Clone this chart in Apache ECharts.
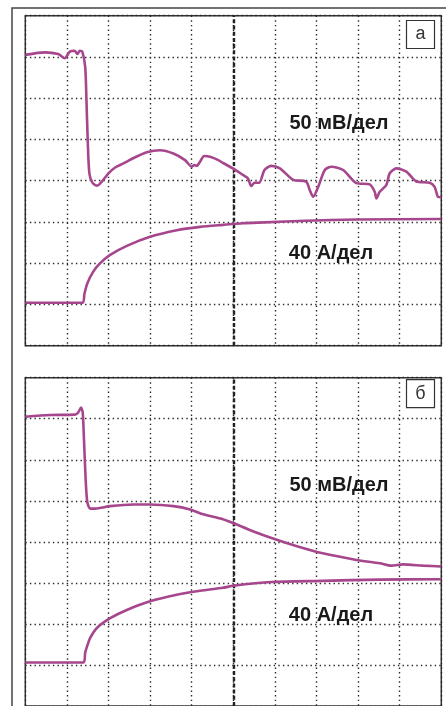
<!DOCTYPE html>
<html>
<head>
<meta charset="utf-8">
<script src="https://cdn.jsdelivr.net/npm/echarts@6/dist/echarts.min.js"></script>
<style>
html,body{margin:0;padding:0;background:#fff;}
#chart{width:446px;height:706px;}
</style>
</head>
<body>
<div id="chart"></div>
<script>
// Values in screen divisions (x: 0..10, y: 0..8)
const voltageA = [
  [0,7.05],[0.47,7.11],[0.79,7.07],[0.95,6.97],[1.07,7.13],[1.19,7.15],[1.25,7.07],[1.31,7.15],[1.37,7.13],
  [1.44,6.76],[1.47,5.96],[1.5,4.99],[1.54,4.18],[1.62,3.94],[1.73,3.88],[1.84,3.98],[2.0,4.18],[2.16,4.32],
  [2.36,4.42],[2.6,4.55],[2.92,4.69],[3.24,4.74],[3.56,4.66],[3.84,4.5],[4.0,4.34],[4.06,4.38],[4.12,4.36],
  [4.2,4.46],[4.3,4.6],[4.44,4.58],[4.64,4.5],[4.75,4.43],[4.99,4.3],[5.23,4.14],[5.35,4.06],[5.43,3.87],
  [5.51,3.95],[5.62,3.95],[5.75,4.26],[5.91,4.36],[6.12,4.3],[6.44,4.02],[6.75,3.98],[6.84,3.77],[6.92,3.61],
  [7.04,3.85],[7.2,4.26],[7.36,4.34],[7.64,4.26],[7.96,3.94],[8.28,3.91],[8.4,3.73],[8.44,3.57],[8.52,3.73],
  [8.68,3.9],[8.76,4.18],[8.92,4.3],[9.16,4.22],[9.4,3.98],[9.72,3.95],[9.84,3.85],[9.92,3.61],[10,3.6]
];
const currentA = [
  [0,1.04],[1.38,1.04],[1.42,1.25],[1.49,1.51],[1.63,1.79],[1.8,2.0],[2.04,2.2],[2.44,2.42],[3.0,2.64],
  [3.64,2.8],[4.2,2.88],[4.75,2.93],[5.23,2.97],[5.75,2.99],[6.75,3.03],[7.96,3.06],[10,3.07]
];
const voltageB = [
  [0,7.05],[0.59,7.09],[1.19,7.1],[1.27,7.15],[1.34,7.27],[1.38,7.15],[1.41,6.51],[1.45,5.54],[1.49,4.97],
  [1.56,4.81],[1.68,4.81],[2.04,4.87],[2.6,4.91],[3.0,4.91],[3.56,4.87],[3.96,4.79],[4.28,4.67],[4.52,4.61],
  [4.75,4.55],[4.99,4.46],[5.47,4.26],[5.99,4.07],[6.51,3.9],[7.15,3.72],[7.96,3.56],[8.52,3.48],[8.8,3.42],
  [9.08,3.45],[9.56,3.42],[10,3.4]
];
const currentB = [
  [0,1.06],[1.4,1.06],[1.44,1.3],[1.5,1.5],[1.56,1.66],[1.72,1.9],[2.04,2.14],[2.44,2.34],[3.0,2.55],
  [3.64,2.71],[4.2,2.81],[4.75,2.88],[5.0,2.93],[5.91,3.02],[7.15,3.05],[8.5,3.08],[10,3.09]
];
const centerX = 5;
const panelLabels = ['а','б'];
const voltLabel = '50 мВ/дел';
const currLabel = '40 А/дел';

const traceColor = '#a6468c';
const gridTops = [15.7, 377.7];

function mkAxis(idx, type) {
  return {
    type: 'value', gridIndex: idx, min: 0, max: type === 'x' ? 10 : 8, interval: 1,
    axisLine: {show: false}, axisTick: {show: false}, axisLabel: {show: false},
    splitLine: {show: true, lineStyle: {color: '#2a2a2a', width: 1.4, type: [1.4, 3.2]}}
  };
}
function lineSeries(idx, data, withMark) {
  const s = {
    type: 'line', xAxisIndex: idx, yAxisIndex: idx, data: data, showSymbol: false, symbol: 'none',
    smooth: 0.25, lineStyle: {color: traceColor, width: 2.6}, z: 5, silent: true, animation: false
  };
  if (withMark) {
    s.markLine = {
      silent: true, symbol: 'none', label: {show: false}, animation: false,
      lineStyle: {color: '#222', width: 2.4, type: [4, 2.2]},
      data: [{xAxis: centerX}]
    };
  }
  return s;
}

const graphics = [
  {type: 'rect', shape: {x: 12, y: 8, width: 470, height: 740}, style: {fill: 'none', stroke: '#444', lineWidth: 1.5}, z: 0}
];
gridTops.forEach((t, i) => {
  graphics.push({type: 'rect', shape: {x: 406.5, y: t + (i === 0 ? 4.8 : 2), width: 28, height: 28},
    style: {fill: '#fff', stroke: '#333', lineWidth: 1.2}, z: 10});
  graphics.push({type: 'text', x: 420.5, y: t + (i === 0 ? 18.8 : 16), style: {text: panelLabels[i], fill: '#333',
    font: '18px "Liberation Sans", Arial, sans-serif', textAlign: 'center', textVerticalAlign: 'middle'}, z: 11});
  graphics.push({type: 'text', x: 339, y: t + 107.8, style: {text: voltLabel, fill: '#1a1a1a',
    font: 'bold 20px "Liberation Sans", Arial, sans-serif', textAlign: 'center', textVerticalAlign: 'middle'}, z: 11});
  graphics.push({type: 'text', x: 331, y: t + 237.8, style: {text: currLabel, fill: '#1a1a1a',
    font: 'bold 20px "Liberation Sans", Arial, sans-serif', textAlign: 'center', textVerticalAlign: 'middle'}, z: 11});
});

const chart = echarts.init(document.getElementById('chart'), null, {renderer: 'canvas'});
chart.setOption({
  animation: false,
  backgroundColor: '#fff',
  grid: gridTops.map(t => ({left: 25.3, top: t, width: 416, height: 330, show: true,
    borderColor: '#333', borderWidth: 1.5, backgroundColor: 'transparent', containLabel: false})),
  xAxis: [mkAxis(0, 'x'), mkAxis(1, 'x')],
  yAxis: [mkAxis(0, 'y'), mkAxis(1, 'y')],
  series: [
    lineSeries(0, voltageA, true),
    lineSeries(0, currentA, false),
    lineSeries(1, voltageB, true),
    lineSeries(1, currentB, false)
  ],
  graphic: graphics
});
</script>
</body>
</html>
